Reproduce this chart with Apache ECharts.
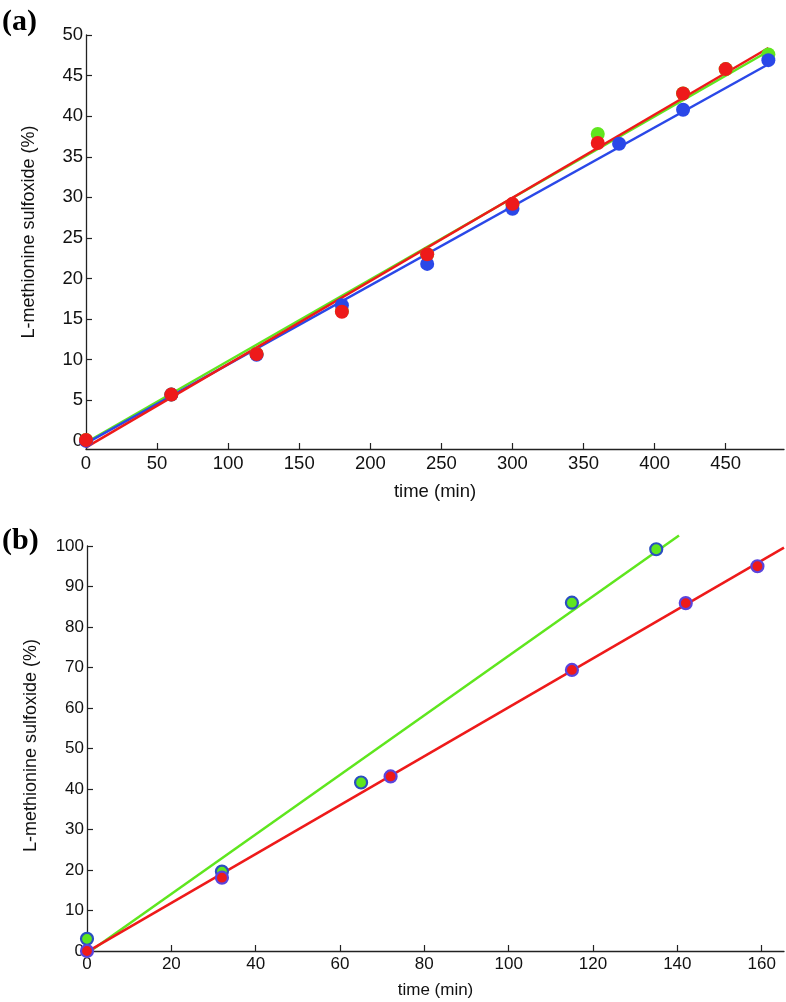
<!DOCTYPE html>
<html>
<head>
<meta charset="utf-8">
<script src="https://cdn.jsdelivr.net/npm/echarts@6/dist/echarts.min.js"></script>
<style>
html,body{margin:0;padding:0;background:#fff;}
#main{width:786px;height:1002px;}
</style>
</head>
<body>
<div id="main"></div>
<script>
// ---- Panel (a) data ----
var aGreenPts = [[0,0.1],[60,5.7],[120,10.7],[180,16.0],[240,23.0],[300,29.1],[360,37.8],[420,42.8],[450,45.8],[480,47.6]];
var aBluePts  = [[0,0.0],[60,5.7],[120,10.6],[180,16.7],[240,21.8],[300,28.6],[375,36.6],[420,40.8],[480,46.9]];
var aRedPts   = [[0,0.1],[60,5.7],[120,10.7],[180,15.9],[240,23.0],[300,29.2],[360,36.7],[420,42.8],[450,45.8]];
var aGreenFit = [[0,-0.2],[480,48.0]];
var aBlueFit  = [[0,-0.3],[480,46.4]];
var aRedFit   = [[0,-0.8],[480,48.4]];
var aXTicks = [0,50,100,150,200,250,300,350,400,450];
var aYTicks = [0,5,10,15,20,25,30,35,40,45,50];

// ---- Panel (b) data ----
var bGreenPts = [[0,3.0],[32,19.6],[65,41.6],[115,86.0],[135,99.2]];
var bRedPts   = [[0,0.0],[32,18.1],[72,43.1],[115,69.4],[142,85.9],[159,95.0]];
var bGreenFit = [[0,-0.6],[140.4,102.6]];
var bRedFit   = [[0,-0.2],[165.3,99.6]];
var bXTicks = [0,20,40,60,80,100,120,140,160];
var bYTicks = [0,10,20,30,40,50,60,70,80,90,100];

var RED = '#ee1a1a', BLUE = '#2a48e8', GREEN = '#5fe61e';
var FONT = 'Liberation Sans';

function xAxisCfg(idx, min, max, ticks, fs, nameGap) {
  return {
    type: 'value', gridIndex: idx, min: min, max: max,
    name: 'time (min)', nameLocation: 'middle', nameGap: nameGap,
    nameTextStyle: {fontFamily: FONT, fontSize: fs, color: '#111'},
    axisLine: {show: true, onZero: false, lineStyle: {color: '#222', width: 1.3}},
    axisTick: {show: true, inside: true, length: 6, customValues: ticks, lineStyle: {color: '#222', width: 1.2}},
    axisLabel: {show: true, customValues: ticks, margin: 5, fontFamily: FONT, fontSize: fs, color: '#111'},
    splitLine: {show: false}
  };
}
function yAxisCfg(idx, min, max, ticks, fs, nameGap, pad) {
  return {
    type: 'value', gridIndex: idx, min: min, max: max,
    name: 'L-methionine sulfoxide (%)', nameLocation: 'middle', nameGap: nameGap,
    nameTextStyle: {fontFamily: FONT, fontSize: 18, color: '#111', padding: [0,0,0,pad]},
    axisLine: {show: true, onZero: false, lineStyle: {color: '#222', width: 1.3}},
    axisTick: {show: true, inside: true, length: 6, customValues: ticks, lineStyle: {color: '#222', width: 1.2}},
    axisLabel: {show: true, customValues: ticks, margin: 3, fontFamily: FONT, fontSize: fs, color: '#111'},
    splitLine: {show: false}
  };
}
function fit(data, color, xi) {
  return {type: 'line', xAxisIndex: xi, yAxisIndex: xi, data: data, showSymbol: false, symbol: 'none',
    clip: false, z: 2, lineStyle: {color: color, width: 2.5}, silent: true};
}
function pts(data, color, size, border, xi, z) {
  var st = {color: color, opacity: 1};
  if (border) { st.borderColor = border; st.borderWidth = 2.2; }
  return {type: 'scatter', xAxisIndex: xi, yAxisIndex: xi, data: data, symbol: 'circle', symbolSize: size,
    clip: false, z: z, itemStyle: st, silent: true};
}

var chart = echarts.init(document.getElementById('main'), null, {renderer: 'canvas'});
chart.setOption({
  animation: false,
  backgroundColor: '#fff',
  title: [
    {text: '(a)', left: 2, top: 7, padding: 0, textStyle: {fontFamily: 'Liberation Serif', fontWeight: 'bold', fontSize: 30, color: '#000'}},
    {text: '(b)', left: 2, top: 526, padding: 0, textStyle: {fontFamily: 'Liberation Serif', fontWeight: 'bold', fontSize: 30, color: '#000'}}
  ],
  grid: [
    {left: 86, top: 35, width: 698, height: 414},
    {left: 87, top: 546, width: 697, height: 405}
  ],
  xAxis: [
    xAxisCfg(0, 0, 491, aXTicks, 18.5, 33),
    xAxisCfg(1, 0, 165.3, bXTicks, 17, 31)
  ],
  yAxis: [
    yAxisCfg(0, -1, 50, aYTicks, 18.5, 48, 20),
    yAxisCfg(1, 0, 100, bYTicks, 17, 47, 6)
  ],
  series: [
    fit(aGreenFit, GREEN, 0),
    fit(aBlueFit, BLUE, 0),
    fit(aRedFit, RED, 0),
    pts(aGreenPts, GREEN, 14, null, 0, 3),
    pts(aBluePts, BLUE, 14, null, 0, 4),
    pts(aRedPts, RED, 14, null, 0, 5),
    fit(bGreenFit, GREEN, 1),
    fit(bRedFit, RED, 1),
    pts(bGreenPts, GREEN, 12, '#2a4fc0', 1, 3),
    pts(bRedPts, RED, 12, '#5a44dd', 1, 4)
  ]
});
</script>
</body>
</html>
